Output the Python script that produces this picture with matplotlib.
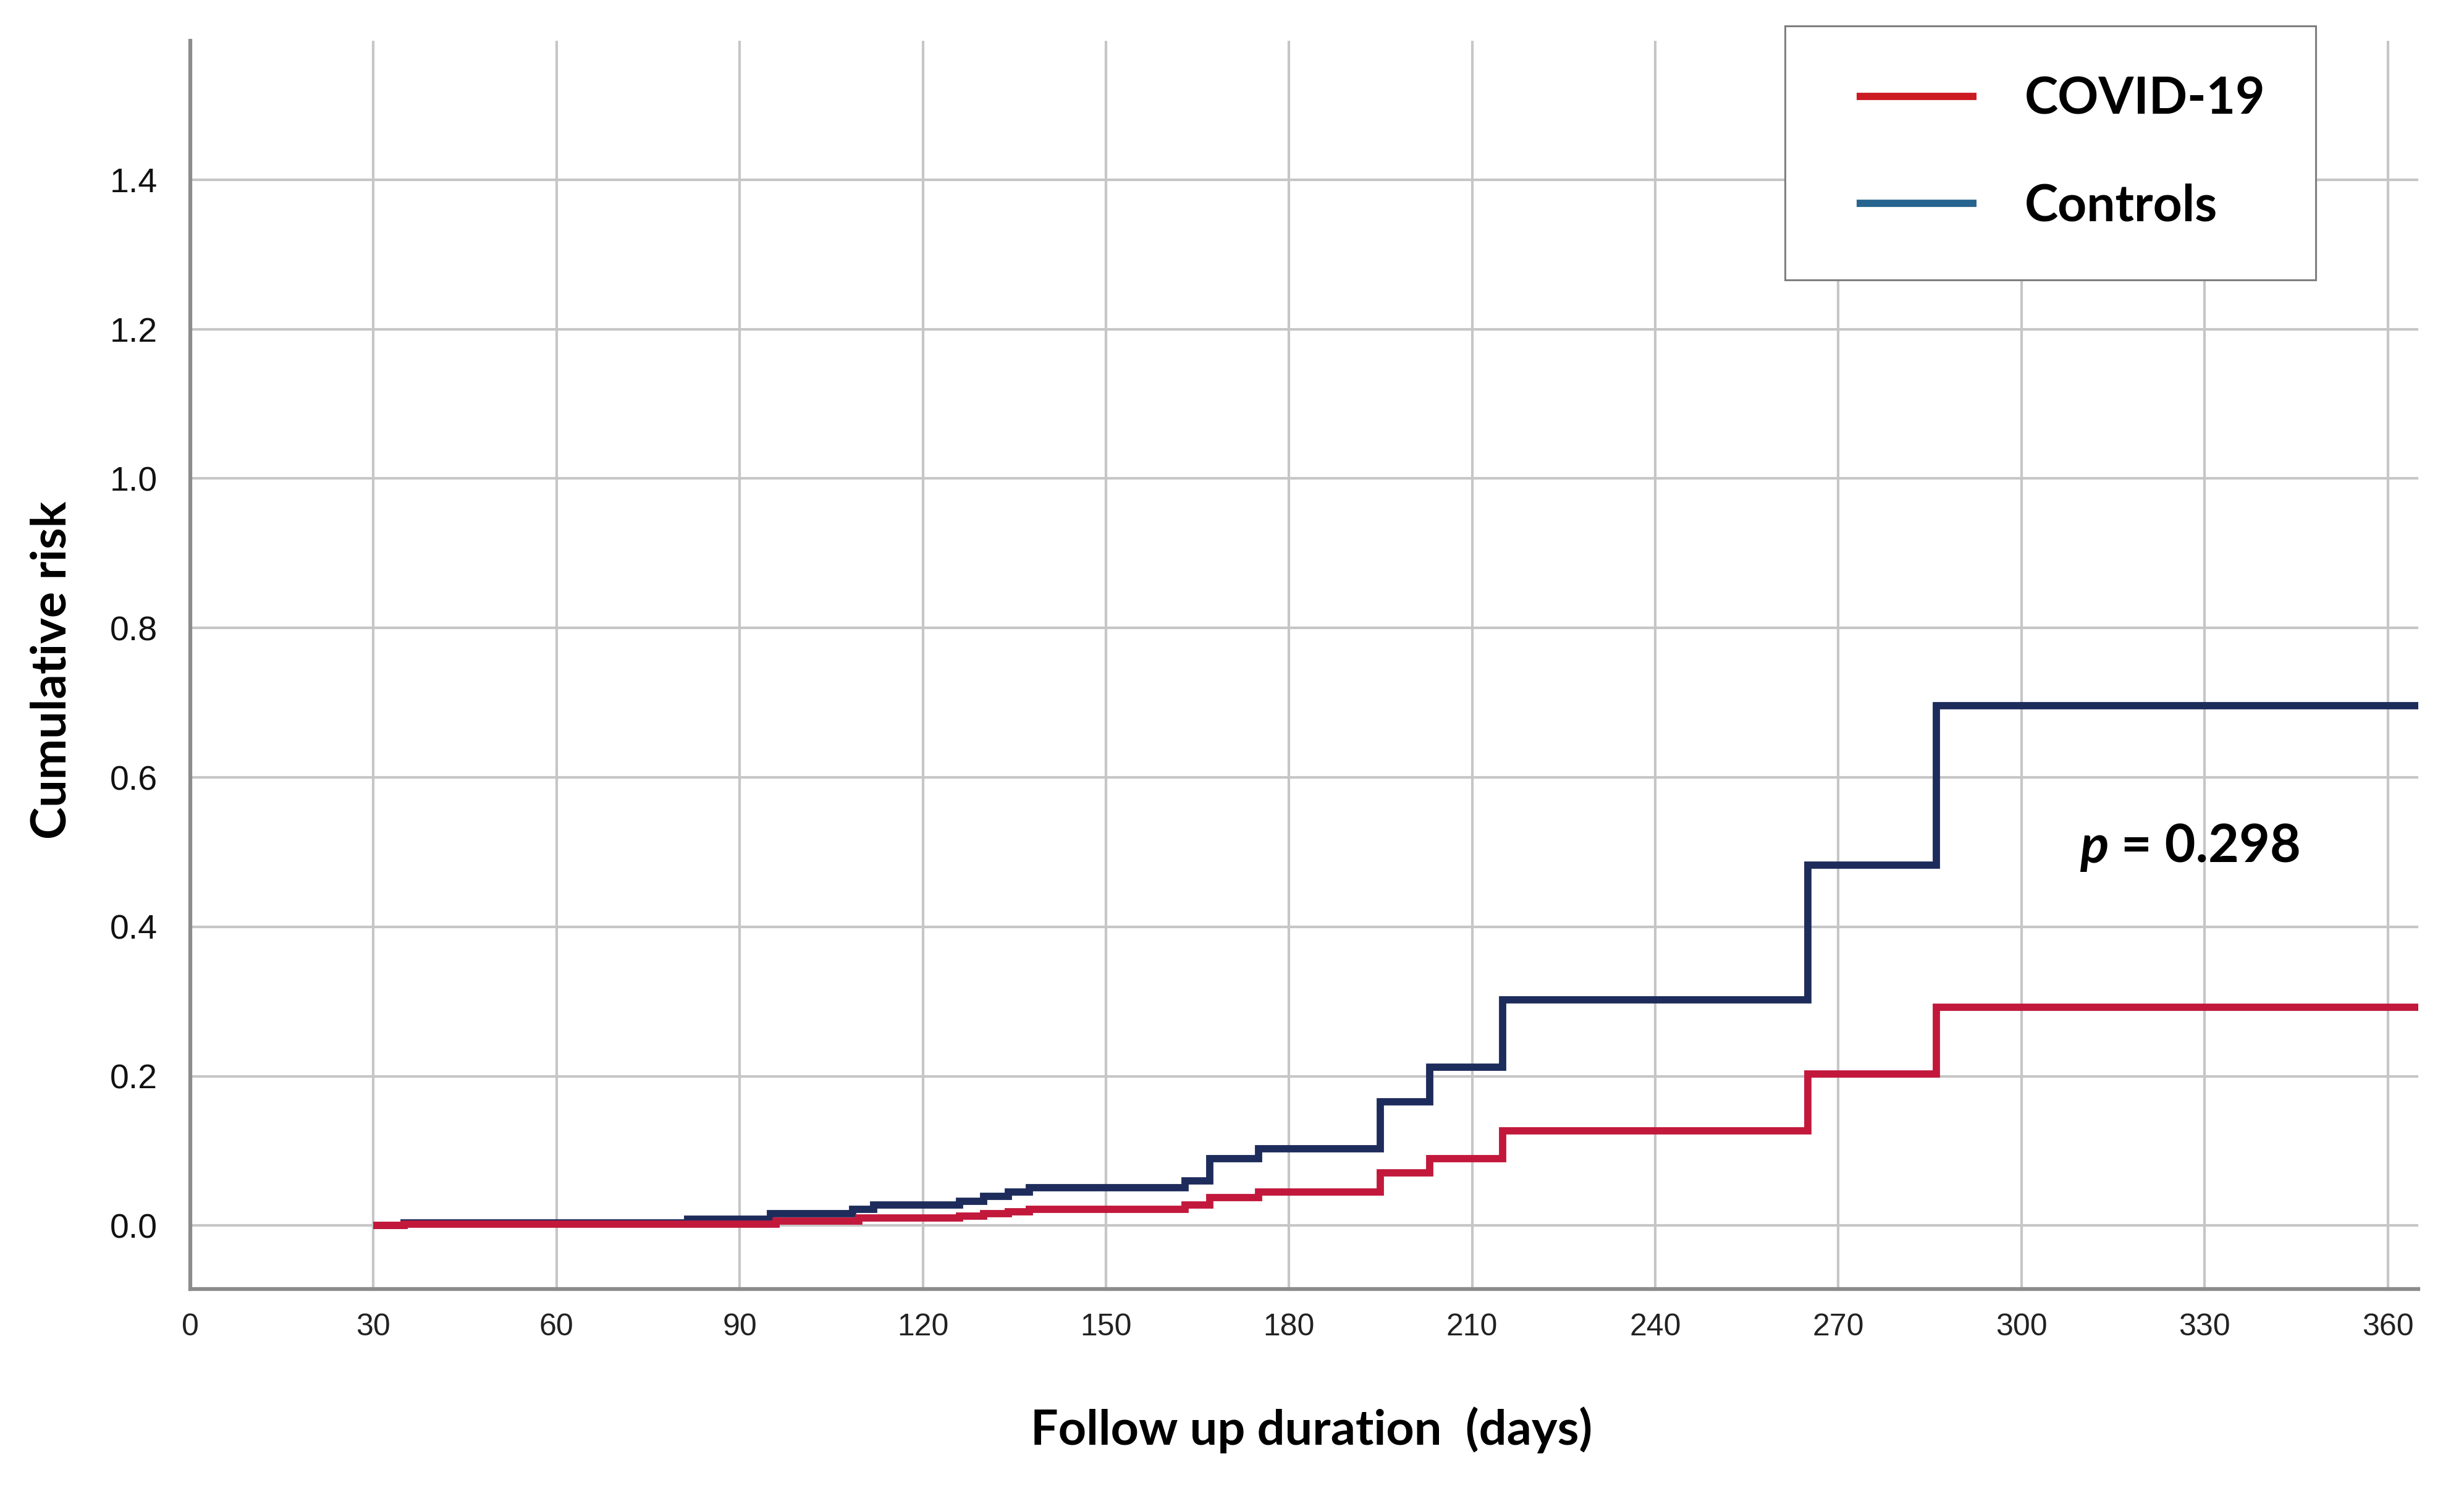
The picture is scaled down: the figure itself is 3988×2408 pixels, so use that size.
import matplotlib
matplotlib.use("Agg")
import matplotlib.pyplot as plt
from matplotlib.lines import Line2D
from matplotlib.legend_handler import HandlerLine2D

# ---- data ----
covid_days = [30, 35, 96, 109.5, 126, 130, 134, 137.5, 163, 167, 175, 195, 203, 215, 265, 286]
covid_risk = [0.0, 0.002, 0.006, 0.010, 0.013, 0.016, 0.019, 0.022, 0.028, 0.038, 0.045,
              0.071, 0.090, 0.127, 0.203, 0.292]
control_days = [30, 35, 81.5, 95, 108.5, 112, 126, 130, 134, 137.5, 163, 167, 175, 195,
                203, 215, 265, 286]
control_risk = [0.0, 0.004, 0.009, 0.016, 0.022, 0.028, 0.033, 0.039, 0.045, 0.051, 0.060,
                0.090, 0.103, 0.166, 0.212, 0.302, 0.483, 0.696]
follow_up_end = 365
x_ticks = [0, 30, 60, 90, 120, 150, 180, 210, 240, 270, 300, 330, 360]
y_ticks = [0.0, 0.2, 0.4, 0.6, 0.8, 1.0, 1.2, 1.4]
series_labels = ["COVID-19", "Controls"]
p_label = "0.298"

W, H = 3988, 2408
fig = plt.figure(figsize=(W / 100, H / 100), dpi=100)
L, R, T, B = 308, 3914, 66, 2086
ax = fig.add_axes([L / W, 1 - B / H, (R - L) / W, (B - T) / H])

col_covid = "#c2183c"
col_ctrl = "#1e2c5c"
grid_col = "#c6c6c6"
spine_col = "#8c8c8c"

ax.set_xlim(0, follow_up_end)
ax.set_ylim(-0.0848, 1.586)
ax.set_xticks(x_ticks)
ax.set_yticks(y_ticks)
ax.set_xticklabels([str(v) for v in x_ticks], fontsize=36, family="Liberation Sans", color="#222222")
ax.set_yticklabels([f"{v:.1f}" for v in y_ticks], fontsize=40, family="Liberation Sans", color="#111111")
ax.tick_params(axis="x", length=0, pad=28)
ax.tick_params(axis="y", length=0, pad=38)

ax.grid(True, color=grid_col, linewidth=3.0)
ax.set_axisbelow(True)
for s in ["top", "right"]:
    ax.spines[s].set_visible(False)
for s in ["left", "bottom"]:
    ax.spines[s].set_color(spine_col)
    ax.spines[s].set_linewidth(4.5)

cd = control_days + [follow_up_end]
cr = control_risk + [control_risk[-1]]
vd = covid_days + [follow_up_end]
vr = covid_risk + [covid_risk[-1]]
ax.step(cd, cr, where="post", color=col_ctrl, linewidth=8.5,
        solid_joinstyle="miter", solid_capstyle="butt", zorder=3)
ax.step(vd, vr, where="post", color=col_covid, linewidth=8.5,
        solid_joinstyle="miter", solid_capstyle="butt", zorder=4)

# axis labels
lab_font = dict(family="Lato", weight="bold", size=57)
ax.set_xlabel("Follow up duration  (days)", va="baseline", **lab_font)
ax.xaxis.set_label_coords((2123 - L) / (R - L), (B - 2338) / (B - T))
ax.set_ylabel("Cumulative risk", va="baseline", **lab_font)
ax.yaxis.set_label_coords((107 - L) / (R - L), (B - 1084) / (B - T))

# p-value annotation
p_y = 0.486
t1 = ax.text(309.5, p_y, "p", family="Lato", weight="bold", style="italic",
             size=62, va="baseline", ha="left", zorder=5)
ax.annotate(" = " + p_label, xy=(1, 0), xycoords=t1, va="bottom", ha="left",
            family="Lato", weight="bold", size=62, zorder=5)

# legend
handles = [Line2D([], [], color="#cc1a22", linewidth=8.5, solid_capstyle="butt"),
           Line2D([], [], color="#27648f", linewidth=8.5, solid_capstyle="butt")]
leg = fig.legend(handles, series_labels, loc="upper left",
                 bbox_to_anchor=(2889 / W, 1 - 42 / H), borderaxespad=0,
                 prop=dict(family="Lato", weight="bold", size=59),
                 handlelength=2.78, handletextpad=0.95, labelspacing=1.19,
                 borderpad=1.0, fancybox=False, framealpha=1, edgecolor="#7f7f7f",
                 handler_map={Line2D: HandlerLine2D(xpad=0.41)})
leg.get_frame().set_linewidth(2.2)

fig.savefig("out.png", dpi=100, facecolor="white")
